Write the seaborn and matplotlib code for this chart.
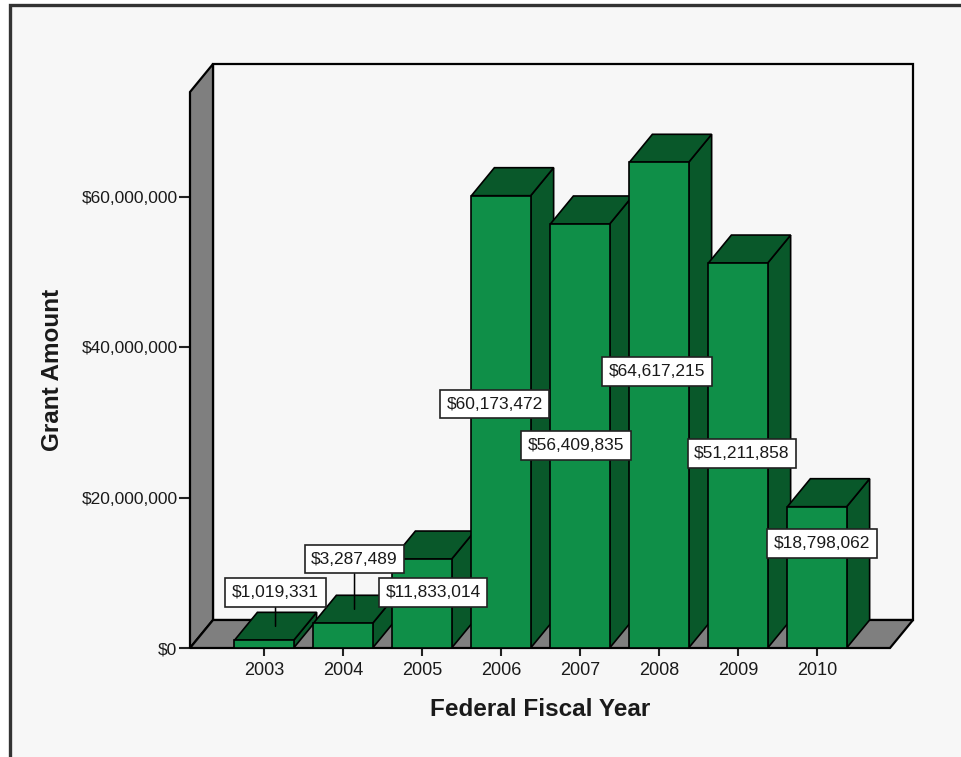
import matplotlib
matplotlib.use('Agg')
import matplotlib.pyplot as plt
from matplotlib.patches import Polygon, Rectangle
import seaborn as sns
import pandas as pd

# ---- data ----
years = ['2003', '2004', '2005', '2006', '2007', '2008', '2009', '2010']
amounts = [1019331, 3287489, 11833014, 60173472, 56409835, 64617215, 51211858, 18798062]
y_ticks = [0, 20000000, 40000000, 60000000]
y_tick_labels = ['$0', '$20,000,000', '$40,000,000', '$60,000,000']

# value-label placement (category units, dollars) as in the reference
label_x = [0.146, 1.146, 2.139, 2.918, 3.949, 4.975, 6.05, 7.06]
label_y = [7.38e6, 11.84e6, 7.38e6, 32.46e6, 26.94e6, 36.78e6, 25.87e6, 13.9e6]
leader = [True, True, False, False, False, False, False, False]

# ---- styles ----
GREEN = '#0f8f48'
DARK = '#09582a'
GRAY = '#7f7f7f'
BG = '#f7f7f7'
TXT = '#1a1a1a'

sns.set_theme(style='white')
plt.rcParams['font.family'] = ['Liberation Sans', 'DejaVu Sans']

df = pd.DataFrame({'year': years, 'amount': amounts})

W, H = 961, 757
fig = plt.figure(figsize=(W / 100, H / 100), dpi=100, facecolor='white')
frame = Rectangle((10 / W, -0.05), 1.2, (H - 5) / H + 0.05, transform=fig.transFigure,
                  facecolor=BG, edgecolor='#333333', linewidth=2.4, zorder=-10)
fig.add_artist(frame)

ax = fig.add_axes([190 / W, (H - 648) / H, 700 / W, 556 / H])
ax.patch.set_alpha(0)

XL, XR = -0.937, 7.924
YT = 73.97e6
DX = 23 / 79.0
DY = 28 * YT / 556.0

sns.barplot(data=df, x='year', y='amount', color=GREEN, saturation=1, width=0.75,
            edgecolor='black', linewidth=1.2, errorbar=None, ax=ax)

bars = list(ax.patches)
for i, p in enumerate(bars):
    x0, w, h = p.get_x(), p.get_width(), p.get_height()
    p.set_zorder(3 + 3 * i)
    p.set_clip_on(False)
    side = Polygon([(x0 + w, 0), (x0 + w, h), (x0 + w + DX, h + DY), (x0 + w + DX, DY)],
                   closed=True, facecolor=DARK, edgecolor='black', linewidth=1.2,
                   zorder=2 + 3 * i, clip_on=False)
    top = Polygon([(x0, h), (x0 + w, h), (x0 + w + DX, h + DY), (x0 + DX, h + DY)],
                  closed=True, facecolor=DARK, edgecolor='black', linewidth=1.2,
                  zorder=2 + 3 * i, clip_on=False)
    ax.add_patch(side)
    ax.add_patch(top)

# walls and floor
back = Rectangle((XL + DX, DY), XR - XL, YT, facecolor=BG, edgecolor='black',
                 linewidth=1.6, zorder=0.5, clip_on=False)
left = Polygon([(XL, 0), (XL, YT), (XL + DX, YT + DY), (XL + DX, DY)], closed=True,
               facecolor=GRAY, edgecolor='black', linewidth=1.6, zorder=1, clip_on=False)
floor = Polygon([(XL, 0), (XR, 0), (XR + DX, DY), (XL + DX, DY)], closed=True,
                facecolor=GRAY, edgecolor='black', linewidth=1.6, zorder=1, clip_on=False)
for a in (back, left, floor):
    ax.add_patch(a)

# value labels
FS = 12.5
for i, v in enumerate(amounts):
    txt = '${:,}'.format(v)
    box = dict(boxstyle='square,pad=0.38', facecolor='white', edgecolor='#222222', linewidth=1.2)
    if leader[i]:
        ax.annotate(txt, xy=(i + DX / 2, v + DY / 2), xytext=(label_x[i], label_y[i]),
                    textcoords='data', ha='center', va='center', fontsize=FS, color=TXT,
                    bbox=box, zorder=60,
                    arrowprops=dict(arrowstyle='-', color='black', lw=1.1,
                                    shrinkA=0, shrinkB=0))
    else:
        ax.text(label_x[i], label_y[i], txt, ha='center', va='center', fontsize=FS,
                color=TXT, bbox=box, zorder=60)

ax.set_xlim(XL, XR)
ax.set_ylim(0, YT)
for s in ax.spines.values():
    s.set_visible(False)

ax.set_xticks(range(len(years)))
ax.set_xticklabels(years, fontsize=13, color=TXT)
ax.set_yticks(y_ticks)
ax.set_yticklabels(y_tick_labels, fontsize=12.5, color=TXT)
ax.tick_params(axis='x', bottom=True, length=6, width=1.5, direction='out', pad=4, color='#222222')
ax.tick_params(axis='y', left=True, length=8, width=1.5, direction='out', pad=1, color='#222222')

ax.set_xlabel('Federal Fiscal Year', fontsize=17.5, fontweight='bold', color=TXT)
ax.xaxis.set_label_coords(0.5, (648 - 709) / 556)
ax.xaxis.label.set_va('center')
ax.set_ylabel('Grant Amount', fontsize=17.5, fontweight='bold', color=TXT)
ax.yaxis.set_label_coords((52.5 - 190) / 700, 0.5)
ax.yaxis.label.set_va('center')

fig.savefig('out.png', dpi=100, facecolor='white')
